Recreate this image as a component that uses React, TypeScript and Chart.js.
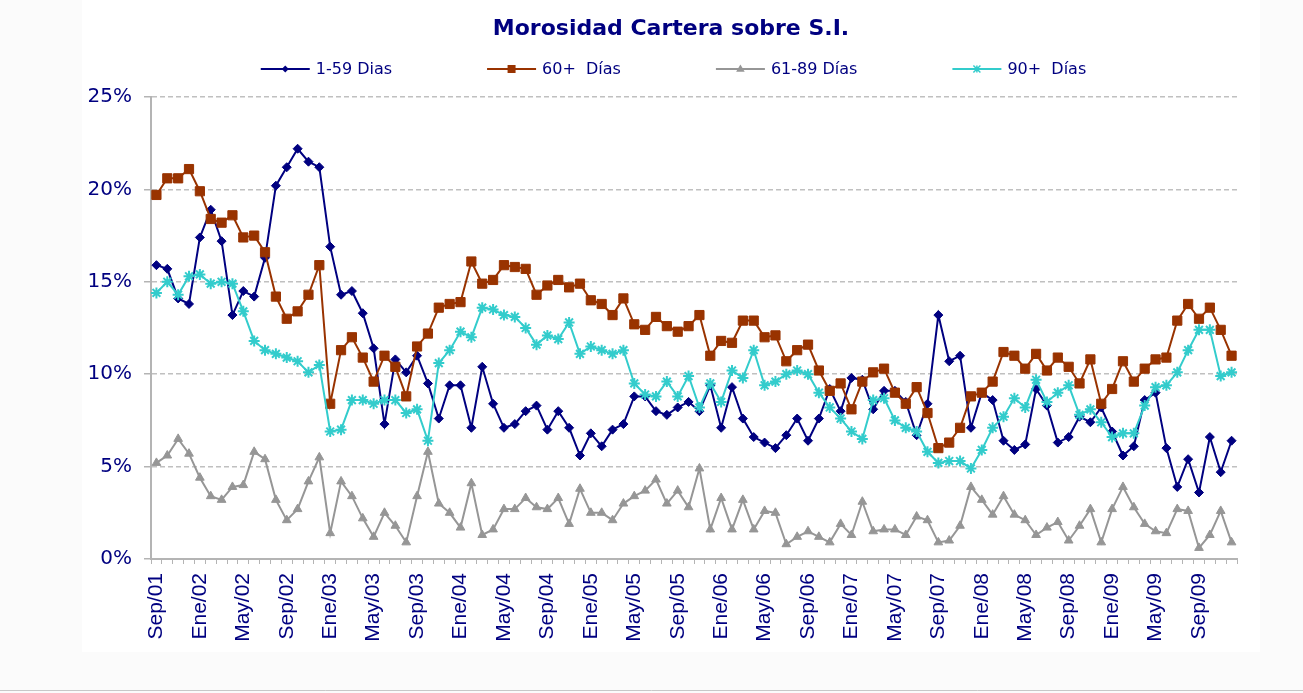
import React, { useEffect, useRef } from 'react';
import { Chart, registerables } from 'chart.js';

Chart.register(...registerables);

// ---------- DATA ----------
const categories = [
  'Sep/01', 'Oct/01', 'Nov/01', 'Dic/01',
  'Ene/02', 'Feb/02', 'Mar/02', 'Abr/02', 'May/02', 'Jun/02', 'Jul/02', 'Ago/02', 'Sep/02', 'Oct/02', 'Nov/02', 'Dic/02',
  'Ene/03', 'Feb/03', 'Mar/03', 'Abr/03', 'May/03', 'Jun/03', 'Jul/03', 'Ago/03', 'Sep/03', 'Oct/03', 'Nov/03', 'Dic/03',
  'Ene/04', 'Feb/04', 'Mar/04', 'Abr/04', 'May/04', 'Jun/04', 'Jul/04', 'Ago/04', 'Sep/04', 'Oct/04', 'Nov/04', 'Dic/04',
  'Ene/05', 'Feb/05', 'Mar/05', 'Abr/05', 'May/05', 'Jun/05', 'Jul/05', 'Ago/05', 'Sep/05', 'Oct/05', 'Nov/05', 'Dic/05',
  'Ene/06', 'Feb/06', 'Mar/06', 'Abr/06', 'May/06', 'Jun/06', 'Jul/06', 'Ago/06', 'Sep/06', 'Oct/06', 'Nov/06', 'Dic/06',
  'Ene/07', 'Feb/07', 'Mar/07', 'Abr/07', 'May/07', 'Jun/07', 'Jul/07', 'Ago/07', 'Sep/07', 'Oct/07', 'Nov/07', 'Dic/07',
  'Ene/08', 'Feb/08', 'Mar/08', 'Abr/08', 'May/08', 'Jun/08', 'Jul/08', 'Ago/08', 'Sep/08', 'Oct/08', 'Nov/08', 'Dic/08',
  'Ene/09', 'Feb/09', 'Mar/09', 'Abr/09', 'May/09', 'Jun/09', 'Jul/09', 'Ago/09', 'Sep/09', 'Oct/09', 'Nov/09', 'Dic/09',
];

const labelEvery = 4;

const seriesNames = ['1-59 Dias', '60+  Días', '61-89 Días', '90+  Días'];

const dias1a59 = [
  15.9, 15.7, 14.1, 13.8, 17.4, 18.9, 17.2, 13.2, 14.5, 14.2, 16.3, 20.2, 21.2, 22.2, 21.5, 21.2, 16.9, 14.3, 14.5, 13.3,
  11.4, 7.3, 10.8, 10.1, 11.0, 9.5, 7.6, 9.4, 9.4, 7.1, 10.4, 8.4, 7.1, 7.3, 8.0, 8.3, 7.0, 8.0, 7.1, 5.6,
  6.8, 6.1, 7.0, 7.3, 8.8, 8.8, 8.0, 7.8, 8.2, 8.5, 8.0, 9.4, 7.1, 9.3, 7.6, 6.6, 6.3, 6.0, 6.7, 7.6,
  6.4, 7.6, 9.2, 8.0, 9.8, 9.7, 8.1, 9.1, 9.1, 8.5, 6.7, 8.4, 13.2, 10.7, 11.0, 7.1, 9.0, 8.6, 6.4, 5.9,
  6.2, 9.2, 8.3, 6.3, 6.6, 7.7, 7.4, 8.2, 6.9, 5.6, 6.1, 8.6, 9.0, 6.0, 3.9, 5.4, 3.6, 6.6, 4.7, 6.4,
];

const dias60mas = [
  19.7, 20.6, 20.6, 21.1, 19.9, 18.4, 18.2, 18.6, 17.4, 17.5, 16.6, 14.2, 13.0, 13.4, 14.3, 15.9, 8.4, 11.3, 12.0, 10.9,
  9.6, 11.0, 10.4, 8.8, 11.5, 12.2, 13.6, 13.8, 13.9, 16.1, 14.9, 15.1, 15.9, 15.8, 15.7, 14.3, 14.8, 15.1, 14.7, 14.9,
  14.0, 13.8, 13.2, 14.1, 12.7, 12.4, 13.1, 12.6, 12.3, 12.6, 13.2, 11.0, 11.8, 11.7, 12.9, 12.9, 12.0, 12.1, 10.7, 11.3,
  11.6, 10.2, 9.1, 9.5, 8.1, 9.6, 10.1, 10.3, 9.0, 8.4, 9.3, 7.9, 6.0, 6.3, 7.1, 8.8, 9.0, 9.6, 11.2, 11.0,
  10.3, 11.1, 10.2, 10.9, 10.4, 9.5, 10.8, 8.4, 9.2, 10.7, 9.6, 10.3, 10.8, 10.9, 12.9, 13.8, 13.0, 13.6, 12.4, 11.0,
];

const dias61a89 = [
  5.2, 5.6, 6.5, 5.7, 4.4, 3.4, 3.2, 3.9, 4.0, 5.8, 5.4, 3.2, 2.1, 2.7, 4.2, 5.5, 1.4, 4.2, 3.4, 2.2,
  1.2, 2.5, 1.8, 0.9, 3.4, 5.8, 3.0, 2.5, 1.7, 4.1, 1.3, 1.6, 2.7, 2.7, 3.3, 2.8, 2.7, 3.3, 1.9, 3.8,
  2.5, 2.5, 2.1, 3.0, 3.4, 3.7, 4.3, 3.0, 3.7, 2.8, 4.9, 1.6, 3.3, 1.6, 3.2, 1.6, 2.6, 2.5, 0.8, 1.2,
  1.5, 1.2, 0.9, 1.9, 1.3, 3.1, 1.5, 1.6, 1.6, 1.3, 2.3, 2.1, 0.9, 1.0, 1.8, 3.9, 3.2, 2.4, 3.4, 2.4,
  2.1, 1.3, 1.7, 2.0, 1.0, 1.8, 2.7, 0.9, 2.7, 3.9, 2.8, 1.9, 1.5, 1.4, 2.7, 2.6, 0.6, 1.3, 2.6, 0.9,
];

const dias90mas = [
  14.4, 15.0, 14.3, 15.3, 15.4, 14.9, 15.0, 14.9, 13.4, 11.8, 11.3, 11.1, 10.9, 10.7, 10.1, 10.5, 6.9, 7.0, 8.6, 8.6,
  8.4, 8.6, 8.6, 7.9, 8.1, 6.4, 10.6, 11.3, 12.3, 12.0, 13.6, 13.5, 13.2, 13.1, 12.5, 11.6, 12.1, 11.9, 12.8, 11.1,
  11.5, 11.3, 11.1, 11.3, 9.5, 8.9, 8.8, 9.6, 8.8, 9.9, 8.2, 9.5, 8.5, 10.2, 9.8, 11.3, 9.4, 9.6, 10.0, 10.2,
  10.0, 9.0, 8.2, 7.6, 6.9, 6.5, 8.6, 8.7, 7.5, 7.1, 6.9, 5.8, 5.2, 5.3, 5.3, 4.9, 5.9, 7.1, 7.7, 8.7,
  8.2, 9.7, 8.5, 9.0, 9.4, 7.8, 8.1, 7.4, 6.6, 6.8, 6.8, 8.3, 9.3, 9.4, 10.1, 11.3, 12.4, 12.4, 9.9, 10.1,
];

const yMin = 0;
const yMax = 25;
const yStep = 5;

const titleText = 'Morosidad Cartera sobre S.I.';
const seriesColors = ['#000080', '#993300', '#969696', '#33CCCC'];
const textColor = '#000080';
const axisColor = '#b4b4b4';

// ---------- helpers ----------
function drawMarker(ctx: CanvasRenderingContext2D, style: string, x: number, y: number, r: number, color: string) {
  ctx.save();
  ctx.fillStyle = color;
  ctx.strokeStyle = color;
  ctx.beginPath();
  if (style === 'rectRot') {
    ctx.moveTo(x - r, y);
    ctx.lineTo(x, y - r);
    ctx.lineTo(x + r, y);
    ctx.lineTo(x, y + r);
    ctx.closePath();
    ctx.fill();
  } else if (style === 'rect') {
    ctx.rect(x - r, y - r, 2 * r, 2 * r);
    ctx.fill();
  } else if (style === 'triangle') {
    ctx.moveTo(x, y - r);
    ctx.lineTo(x + r * 0.95, y + r * 0.6);
    ctx.lineTo(x - r * 0.95, y + r * 0.6);
    ctx.closePath();
    ctx.fill();
  } else {
    ctx.lineWidth = 1.5;
    ctx.moveTo(x - r, y - r);
    ctx.lineTo(x + r, y + r);
    ctx.moveTo(x + r, y - r);
    ctx.lineTo(x - r, y + r);
    ctx.moveTo(x, y - r);
    ctx.lineTo(x, y + r);
    ctx.stroke();
  }
  ctx.restore();
}

const legendMarkerSize: Record<string, number> = { rectRot: 3.5, rect: 4, triangle: 4.5, star: 3.5 };

const decorPlugin = {
  id: 'decor',
  beforeDraw(chart: any) {
    const ctx = chart.ctx as CanvasRenderingContext2D;
    ctx.save();
    ctx.fillStyle = '#fbfbfb';
    ctx.fillRect(0, 0, chart.width, chart.height);
    ctx.fillStyle = '#ffffff';
    ctx.fillRect(82, 0, 1178, 652);
    ctx.strokeStyle = '#c8c8c8';
    ctx.lineWidth = 1;
    ctx.beginPath();
    ctx.moveTo(0, 690.5);
    ctx.lineTo(chart.width, 690.5);
    ctx.stroke();
    ctx.restore();
  },
  afterDraw(chart: any) {
    const ctx = chart.ctx as CanvasRenderingContext2D;
    ctx.save();
    // title
    ctx.font = "bold 22px 'DejaVu Sans', sans-serif";
    ctx.fillStyle = textColor;
    ctx.textAlign = 'center';
    ctx.textBaseline = 'middle';
    ctx.fillText(titleText, 671, 29);

    // legend
    const lineLen = 49;
    const gapText = 6;
    const gapItem = 95;
    const legendY = 69;
    ctx.font = "16px 'DejaVu Sans', sans-serif";
    const dsList = chart.data.datasets;
    const widths = dsList.map((ds: any) => lineLen + gapText + ctx.measureText(ds.label).width);
    const total = widths.reduce((a: number, b: number) => a + b, 0) + gapItem * (dsList.length - 1);
    let x = 673.5 - total / 2;
    ctx.textAlign = 'left';
    dsList.forEach((ds: any, i: number) => {
      ctx.strokeStyle = ds.borderColor;
      ctx.lineWidth = 2;
      ctx.beginPath();
      ctx.moveTo(x, legendY);
      ctx.lineTo(x + lineLen, legendY);
      ctx.stroke();
      drawMarker(ctx, ds.pointStyle, x + lineLen / 2, legendY, legendMarkerSize[ds.pointStyle] || 4, ds.borderColor);
      ctx.fillStyle = textColor;
      ctx.fillText(ds.label, x + lineLen + gapText, legendY + 1);
      x += widths[i] + gapItem;
    });
    ctx.restore();
  },
};

export default function App() {
  const canvasRef = useRef<HTMLCanvasElement | null>(null);

  useEffect(() => {
    if (!canvasRef.current) return;
    const chart = new Chart(canvasRef.current, {
      type: 'line',
      data: {
        labels: categories,
        datasets: [
          {
            label: seriesNames[0],
            data: dias1a59,
            borderColor: seriesColors[0],
            backgroundColor: seriesColors[0],
            borderWidth: 2,
            pointStyle: 'rectRot',
            pointRadius: 4.5,
            pointBorderWidth: 1,
            pointBackgroundColor: seriesColors[0],
            pointBorderColor: seriesColors[0],
            tension: 0,
            order: 4,
          },
          {
            label: seriesNames[1],
            data: dias60mas,
            borderColor: seriesColors[1],
            backgroundColor: seriesColors[1],
            borderWidth: 2,
            pointStyle: 'rect',
            pointRadius: 6.5,
            pointBorderWidth: 1,
            pointBackgroundColor: seriesColors[1],
            pointBorderColor: seriesColors[1],
            tension: 0,
            order: 3,
          },
          {
            label: seriesNames[2],
            data: dias61a89,
            borderColor: seriesColors[2],
            backgroundColor: seriesColors[2],
            borderWidth: 2,
            pointStyle: 'triangle',
            pointRadius: 5,
            pointBorderWidth: 1,
            pointBackgroundColor: seriesColors[2],
            pointBorderColor: seriesColors[2],
            tension: 0,
            order: 2,
          },
          {
            label: seriesNames[3],
            data: dias90mas,
            borderColor: seriesColors[3],
            backgroundColor: seriesColors[3],
            borderWidth: 2,
            pointStyle: 'star',
            pointRadius: 5.5,
            pointBorderWidth: 2,
            pointBackgroundColor: seriesColors[3],
            pointBorderColor: seriesColors[3],
            tension: 0,
            order: 1,
          },
        ],
      },
      options: {
        responsive: false,
        animation: false,
        events: [],
        layout: { padding: { top: 97, right: 66, bottom: 0, left: 0 } },
        plugins: {
          legend: { display: false },
          title: { display: false },
          tooltip: { enabled: false },
        },
        scales: {
          x: {
            type: 'category',
            offset: true,
            grid: {
              display: true,
              drawOnChartArea: false,
              drawTicks: true,
              tickLength: 5,
              offset: true,
              color: axisColor,
              lineWidth: 1,
            },
            border: { display: true, color: axisColor, width: 2 },
            ticks: {
              autoSkip: false,
              maxRotation: 90,
              minRotation: 90,
              padding: 9,
              color: textColor,
              font: { family: "'Liberation Sans', Arial, sans-serif", size: 21 },
              callback: (_v: any, i: number) => (i % labelEvery === 0 ? categories[i] : ''),
            },
            afterFit: (s: any) => {
              s.height = 134;
            },
          },
          y: {
            min: yMin,
            max: yMax,
            ticks: {
              stepSize: yStep,
              padding: 12,
              color: textColor,
              font: { family: "'DejaVu Sans', sans-serif", size: 20 },
              callback: (v: any) => `${v}%`,
            },
            grid: {
              color: '#c0c0c0',
              lineWidth: 1.5,
              drawTicks: true,
              tickLength: 7,
              tickColor: axisColor,
              tickBorderDash: [],
              tickWidth: 1.5,
            },
            border: { display: true, color: axisColor, width: 2, dash: [5, 3] },
            afterFit: (s: any) => {
              s.width = 151;
            },
          },
        },
      },
      plugins: [decorPlugin],
    } as any);
    return () => chart.destroy();
  }, []);

  return (
    <div style={{ position: 'absolute', left: 0, top: 0, width: 1303, height: 693 }}>
      <canvas ref={canvasRef} width={1303} height={693} style={{ display: 'block' }} />
    </div>
  );
}
